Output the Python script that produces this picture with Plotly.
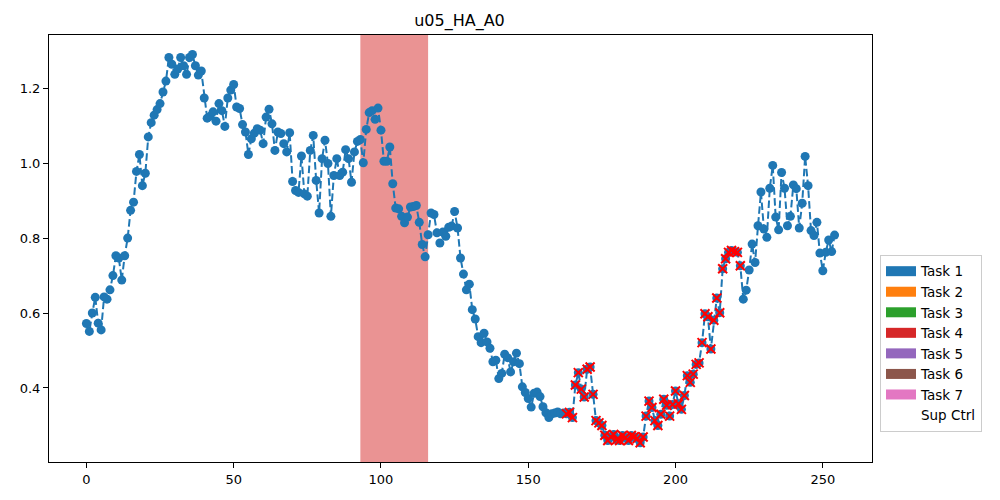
import plotly.graph_objects as go

title_text = "u05_HA_A0"

values = [
    0.572, 0.551, 0.600, 0.642, 0.573, 0.555, 0.643, 0.637, 0.662, 0.700,
    0.753, 0.747, 0.688, 0.753, 0.800, 0.874, 0.896, 0.978, 1.023, 0.940,
    0.973, 1.070, 1.108, 1.128, 1.143, 1.159, 1.190, 1.219, 1.282, 1.264,
    1.237, 1.251, 1.282, 1.260, 1.237, 1.282, 1.290, 1.260, 1.235, 1.246,
    1.174, 1.120, 1.125, 1.137, 1.112, 1.159, 1.140, 1.098, 1.174, 1.195,
    1.210, 1.150, 1.146, 1.103, 1.083, 1.023, 1.065, 1.080, 1.092, 1.088,
    1.052, 1.123, 1.144, 1.105, 1.034, 1.083, 1.079, 1.052, 1.030, 1.081,
    0.951, 0.927, 0.922, 1.019, 0.918, 0.912, 1.034, 1.074, 0.954, 0.867,
    1.012, 1.061, 0.999, 0.858, 0.967, 1.012, 0.967, 0.976, 1.036, 1.012,
    0.949, 1.030, 1.058, 1.063, 1.001, 1.090, 1.135, 1.140, 1.117, 1.147,
    1.088, 1.005, 1.005, 1.043, 0.945, 0.880, 0.878, 0.858, 0.841, 0.856,
    0.883, 0.884, 0.887, 0.842, 0.783, 0.750, 0.809, 0.867, 0.863, 0.814,
    0.787, 0.816, 0.805, 0.829, 0.832, 0.871, 0.827, 0.747, 0.704, 0.662,
    0.677, 0.609, 0.584, 0.537, 0.521, 0.546, 0.523, 0.506, 0.470, 0.474,
    0.425, 0.439, 0.490, 0.481, 0.443, 0.470, 0.493, 0.465, 0.403, 0.388,
    0.372, 0.349, 0.386, 0.389, 0.377, 0.350, 0.334, 0.321, 0.331, 0.333,
    0.336, 0.331, 0.333, 0.331, 0.335, 0.321, 0.408, 0.441, 0.397, 0.376,
    0.450, 0.456, 0.383, 0.313, 0.307, 0.300, 0.274, 0.260, 0.270, 0.276,
    0.262, 0.260, 0.273, 0.268, 0.260, 0.273, 0.270, 0.265, 0.254, 0.269,
    0.325, 0.365, 0.348, 0.313, 0.300, 0.330, 0.370, 0.354, 0.325, 0.356,
    0.392, 0.358, 0.343, 0.380, 0.433, 0.415, 0.437, 0.463, 0.467, 0.521,
    0.598, 0.590, 0.504, 0.581, 0.640, 0.601, 0.718, 0.745, 0.762, 0.767,
    0.764, 0.762, 0.726, 0.637, 0.661, 0.715, 0.784, 0.735, 0.833, 0.923,
    0.824, 0.802, 0.933, 0.994, 0.856, 0.822, 0.975, 0.933, 0.833, 0.858,
    0.942, 0.932, 0.827, 0.893, 1.018, 0.940, 0.820, 0.807, 0.842, 0.760,
    0.713, 0.762, 0.795, 0.764, 0.808,
]
steps = list(range(len(values)))

# Task 4 shaded span (step indices)
task4_span = [93, 116]
# Supervisory control (red x) step range, inclusive
sup_ctrl_range = [163, 222]

task_names = ["Task 1", "Task 2", "Task 3", "Task 4", "Task 5", "Task 6", "Task 7"]
task_colors = ["#1f77b4", "#ff7f0e", "#2ca02c", "#d62728", "#9467bd", "#8c564b", "#e377c2"]
sup_label = "Sup Ctrl"

xticks = [0, 50, 100, 150, 200, 250]
yticks = [0.4, 0.6, 0.8, 1.0, 1.2]

fig = go.Figure()

fig.add_trace(go.Scatter(
    x=steps, y=values, mode="lines+markers",
    line=dict(color="#1f77b4", width=2, dash="7.5px,3.3px"),
    marker=dict(color="#1f77b4", size=9),
    showlegend=False, hoverinfo="skip",
))

sx = [s for s in steps if sup_ctrl_range[0] <= s <= sup_ctrl_range[1]]
sy = [values[s] for s in sx]
fig.add_trace(go.Scatter(
    x=sx, y=sy, mode="markers",
    marker=dict(symbol="x-thin", size=9, color="red", line=dict(color="red", width=2)),
    showlegend=False, hoverinfo="skip",
))

for name, col in zip(task_names, task_colors):
    fig.add_trace(go.Scatter(
        x=[None], y=[None], mode="lines", name=name,
        line=dict(color=col, width=10),
    ))
fig.add_trace(go.Scatter(
    x=[None], y=[None], mode="lines", name=sup_label,
    line=dict(color="rgba(0,0,0,0)", width=10),
))

fig.add_shape(type="rect", xref="x", yref="y domain",
              x0=task4_span[0], x1=task4_span[1], y0=0, y1=1,
              fillcolor=task_colors[3], opacity=0.5, line=dict(width=0), layer="below")

fig.update_layout(
    width=1000, height=500,
    margin=dict(l=39, r=136, t=27, b=46),
    paper_bgcolor="white", plot_bgcolor="white",
    font=dict(family="DejaVu Sans", size=13, color="black"),
    title=dict(text=title_text, x=0.4515, xanchor="center", y=0.976, yanchor="middle",
               font=dict(size=16, family="DejaVu Sans", color="black")),
    legend=dict(x=1.0097, xanchor="left", y=0.485, yanchor="top",
                bordercolor="#cccccc", borderwidth=1, bgcolor="white",
                font=dict(size=13.5, family="DejaVu Sans", color="black"),
                itemwidth=30),
)
fig.update_xaxes(range=[-12.7, 266.7], tickvals=xticks, showgrid=False, zeroline=False,
                 showline=True, linecolor="black", linewidth=1, mirror=True,
                 ticks="outside", ticklen=5, tickcolor="black",
                 tickfont=dict(size=13, family="DejaVu Sans"))
fig.update_yaxes(range=[0.2025, 1.342], tickvals=yticks, tickformat=".1f", showgrid=False,
                 zeroline=False, showline=True, linecolor="black", linewidth=1, mirror=True,
                 ticks="outside", ticklen=5, tickcolor="black",
                 tickfont=dict(size=13, family="DejaVu Sans"))

fig.write_html("out.html")
